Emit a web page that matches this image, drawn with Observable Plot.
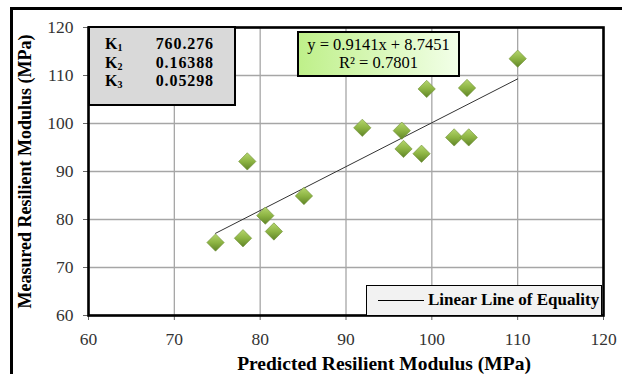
<!DOCTYPE html>
<html>
<head>
<meta charset="utf-8">
<script src="https://cdn.jsdelivr.net/npm/d3@7"></script>
<script src="https://cdn.jsdelivr.net/npm/@observablehq/plot@0.6"></script>
<style>
  html, body { margin: 0; padding: 0; background: #fff; }
  #wrap { position: relative; width: 622px; height: 374px; overflow: hidden; background: #fff; }
  #outer { position: absolute; left: 10px; top: 7px; width: 700px; height: 500px; border: 3px solid #000; box-sizing: border-box; }
  #chart { position: absolute; left: 0; top: 0; }
  .serif { font-family: "Liberation Serif", "Times New Roman", serif; }
  #kbox { position: absolute; left: 88px; top: 26px; width: 148px; height: 80px; background: #d9d9d9; border: 2px solid #000; box-sizing: border-box; font-weight: bold; font-size: 16px; }
  .krow { position: absolute; left: 15px; width: 131px; height: 18px; line-height: 18px; }
  .krow .k { position: absolute; left: 0; letter-spacing: 0; }
  .krow .v { position: absolute; right: 22px; letter-spacing: 0.9px; }
  sub { font-size: 10px; vertical-align: -2px; line-height: 0; }
  #eqbox { position: absolute; left: 297px; top: 31px; width: 163px; height: 46px; border: 2px solid #000; box-sizing: border-box; background: linear-gradient(to right, #bff08a, #f2ffe8); font-size: 16.5px; text-align: center; line-height: 18px; padding-top: 3px; white-space: nowrap; }
  #legend { position: absolute; left: 366px; top: 285px; width: 236px; height: 31px; border: 1px solid #000; box-sizing: border-box; background: #f2f2f2; font-weight: bold; font-size: 17px; }
  #legend .ln { position: absolute; left: 11px; top: 14px; width: 46px; height: 0; border-top: 1px solid #000; }
  #legend .tx { position: absolute; left: 61px; top: 5px; line-height: 18px; white-space: nowrap; }
</style>
</head>
<body>
<div id="wrap">
  <div id="outer"></div>
  <div id="chart"></div>
</div>
<script>
// ---- data ----
const predicted = [74.8, 78.0, 78.5, 80.6, 81.6, 85.1, 91.9, 96.5, 96.7, 98.8, 99.4, 102.6, 104.1, 104.3, 110.0];
const measured  = [75.2, 76.1, 92.1, 80.8, 77.5, 84.9, 99.1, 98.5, 94.7, 93.7, 107.2, 97.1, 107.4, 97.1, 113.5];
const xTicks = [60, 70, 80, 90, 100, 110, 120];
const yTicks = [60, 70, 80, 90, 100, 110, 120];
const kNames = ["K", "K", "K"];
const kSubs = ["1", "2", "3"];
const kValues = ["760.276", "0.16388", "0.05298"];
const trendSlope = 0.9141;
const trendIntercept = 8.7451;
const trendLines = ["y = 0.9141x + 8.7451", "R\u00b2 = 0.7801"];
const legendLabel = "Linear Line of Equality";
const xTitle = "Predicted Resilient Modulus (MPa)";
const yTitle = "Measured Resilient Modulus (MPa)";

const points = predicted.map((x, i) => ({x, y: measured[i]}));
const xExt = d3.extent(predicted);
const trend = xExt.map(x => ({x, y: trendSlope * x + trendIntercept}));

const serif = '"Liberation Serif", "Times New Roman", serif';

const plot = Plot.plot({
  width: 622,
  height: 374,
  marginLeft: 88,
  marginRight: 19,
  marginTop: 27,
  marginBottom: 59,
  style: {fontFamily: serif, background: "transparent", overflow: "visible"},
  x: {domain: [60, 120]},
  y: {domain: [60, 120]},
  marks: [
    Plot.gridX(xTicks, {stroke: "#a6a6a6", strokeOpacity: 1, strokeWidth: 1.3}),
    Plot.gridY(yTicks, {stroke: "#a6a6a6", strokeOpacity: 1, strokeWidth: 1.3}),
    Plot.axisX(xTicks, {label: null, tickSize: 5, tickPadding: 12, fontSize: 17.5, fontFamily: serif, fill: "#333", stroke: "#666"}),
    Plot.axisY(yTicks, {label: null, tickSize: 5, tickPadding: 10, fontSize: 17.5, fontFamily: serif, fill: "#333", stroke: "#666"}),
    Plot.line(trend, {x: "x", y: "y", stroke: "#333", strokeWidth: 1}),
    Plot.dot(points, {x: "x", y: "y", symbol: "diamond2", r: 7.8, fill: "url(#dgrad)", stroke: "#6e8f35", strokeWidth: 0.6}),
    Plot.frame({stroke: "#000", strokeWidth: 2.6}),
    Plot.text([xTitle], {frameAnchor: "bottom", dx: 38, dy: 54, text: d => d, fontFamily: serif, fontWeight: "bold", fontSize: 19.5, fill: "#000", lineAnchor: "bottom"}),
    Plot.text([yTitle], {frameAnchor: "left", dx: -63, rotate: -90, textAnchor: "middle", text: d => d, fontFamily: serif, fontWeight: "bold", fontSize: 18, fill: "#000"})
  ]
});

// gradient + shadow defs for the diamond markers
const ns = "http://www.w3.org/2000/svg";
const defs = document.createElementNS(ns, "defs");
defs.innerHTML = `
  <linearGradient id="dgrad" x1="0" y1="0" x2="0" y2="1">
    <stop offset="0" stop-color="#b5d66e"/>
    <stop offset="0.5" stop-color="#8db443"/>
    <stop offset="1" stop-color="#5f8427"/>
  </linearGradient>
  <filter id="dshadow" x="-50%" y="-50%" width="200%" height="200%">
    <feDropShadow dx="1" dy="1.5" stdDeviation="1" flood-color="#000" flood-opacity="0.35"/>
  </filter>`;
plot.insertBefore(defs, plot.firstChild);
plot.querySelectorAll("path").forEach(p => {
  if (p.getAttribute("fill") === "url(#dgrad)") p.setAttribute("filter", "url(#dshadow)");
});
document.getElementById("chart").appendChild(plot);

// annotation boxes (Excel text boxes)
const wrap = document.getElementById("wrap");
const kbox = document.createElement("div");
kbox.id = "kbox"; kbox.className = "serif";
kNames.forEach((k, i) => {
  const row = document.createElement("div");
  row.className = "krow";
  row.style.top = (7 + i * 18.7) + "px";
  row.innerHTML = `<span class="k">${k}<sub>${kSubs[i]}</sub></span><span class="v">${kValues[i]}</span>`;
  kbox.appendChild(row);
});
wrap.appendChild(kbox);

const eq = document.createElement("div");
eq.id = "eqbox"; eq.className = "serif";
eq.innerHTML = trendLines.join("<br>");
wrap.appendChild(eq);

const lg = document.createElement("div");
lg.id = "legend"; lg.className = "serif";
lg.innerHTML = `<div class="ln"></div><div class="tx">${legendLabel}</div>`;
wrap.appendChild(lg);
</script>
</body>
</html>
